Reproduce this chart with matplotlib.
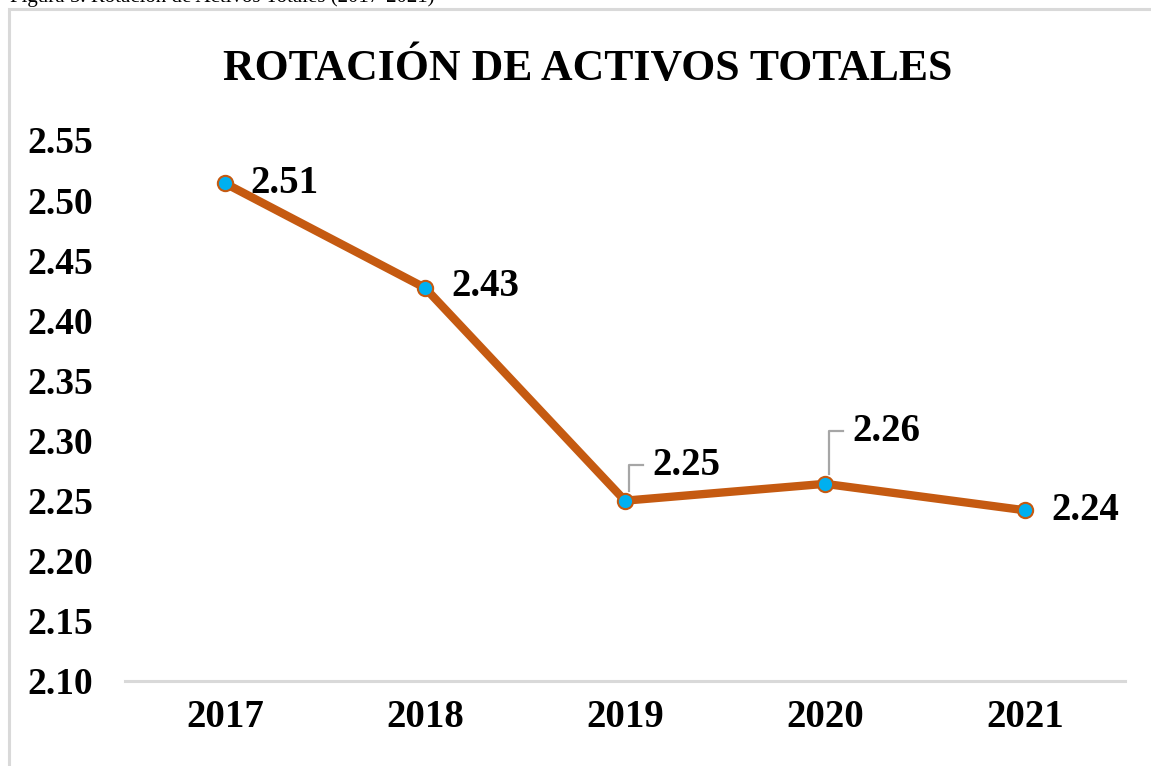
import numpy as np
import matplotlib.pyplot as plt
from matplotlib.patches import Rectangle

years = ['2017', '2018', '2019', '2020', '2021']
rotacion = [2.514, 2.427, 2.250, 2.264, 2.242]
etiquetas = ['2.51', '2.43', '2.25', '2.26', '2.24']
yticks = [2.10, 2.15, 2.20, 2.25, 2.30, 2.35, 2.40, 2.45, 2.50, 2.55]

plt.rcParams['font.family'] = ['Liberation Serif', 'DejaVu Serif']

fig = plt.figure(figsize=(11.51, 7.66), dpi=100)
ax = fig.add_axes([125/1151, 1-681/766, 1000/1151, 541/766])

# chart border, cut off at right and bottom like the screenshot
fig.patches.append(Rectangle((9/1151, -0.05), 1.2, 1-9/766+0.05, transform=fig.transFigure,
                             fill=False, edgecolor='#D9D9D9', linewidth=2.2, zorder=0))
# caption above the chart, mostly cut off
fig.text(10/1151, 1-2/766, 'Figura 5. Rotación de Activos Totales (2017-2021)',
         fontsize=15, ha='left', va='baseline', color='black')

x = np.arange(len(years))
ax.plot(x, rotacion, color='#C55A11', linewidth=6, solid_capstyle='round', zorder=2)
ax.plot(x, rotacion, 'o', markersize=11, markerfacecolor='#00B0F0',
        markeredgecolor='#C55A11', markeredgewidth=1.5, zorder=3)

# data labels: plain ones to the right, two with grey leader lines
offs = [(25, 0), (26, 1.4), (0, 0), (0, 0), (26, -0.3)]
for i in [0, 1, 4]:
    ax.annotate(etiquetas[i], (x[i], rotacion[i]), xytext=offs[i], textcoords='offset pixels',
                ha='left', va='center', fontsize=28, fontweight='bold')
for i in [2, 3]:
    ax.annotate(etiquetas[i], (x[i], rotacion[i]), xytext=(27, 35 + 17 * (i - 2)),
                textcoords='offset pixels', ha='left', va='center',
                fontsize=28, fontweight='bold')
    # leader line: up from the marker then right
    y_top = rotacion[i] + (36 + 17 * (i - 2)) / 60.1 * 0.05
    ax.plot([x[i] + 0.02, x[i] + 0.02, x[i] + 0.09], [rotacion[i] + 0.008, y_top, y_top],
            color='#A6A6A6', linewidth=1.6, zorder=1)

ax.set_xlim(-0.5, 4.5)
ax.set_ylim(2.10, 2.55)
ax.set_xticks(x)
ax.set_xticklabels(years, fontsize=28, fontweight='bold')
ax.set_yticks(yticks)
ax.set_yticklabels(['%.2f' % v for v in yticks], fontsize=27, fontweight='bold')
ax.tick_params(axis='both', length=0)
ax.tick_params(axis='y', pad=23)
ax.tick_params(axis='x', pad=13)
for s in ['top', 'right', 'left']:
    ax.spines[s].set_visible(False)
ax.spines['bottom'].set_color('#D9D9D9')
ax.spines['bottom'].set_linewidth(2.2)
ax.spines['bottom'].set_bounds(-0.5, 4.5)

fig.text(588/1151, 1-69/766, 'ROTACIÓN DE ACTIVOS TOTALES', fontsize=31.5,
         fontweight='bold', ha='center', va='center')

fig.savefig('out.png', dpi=100)
